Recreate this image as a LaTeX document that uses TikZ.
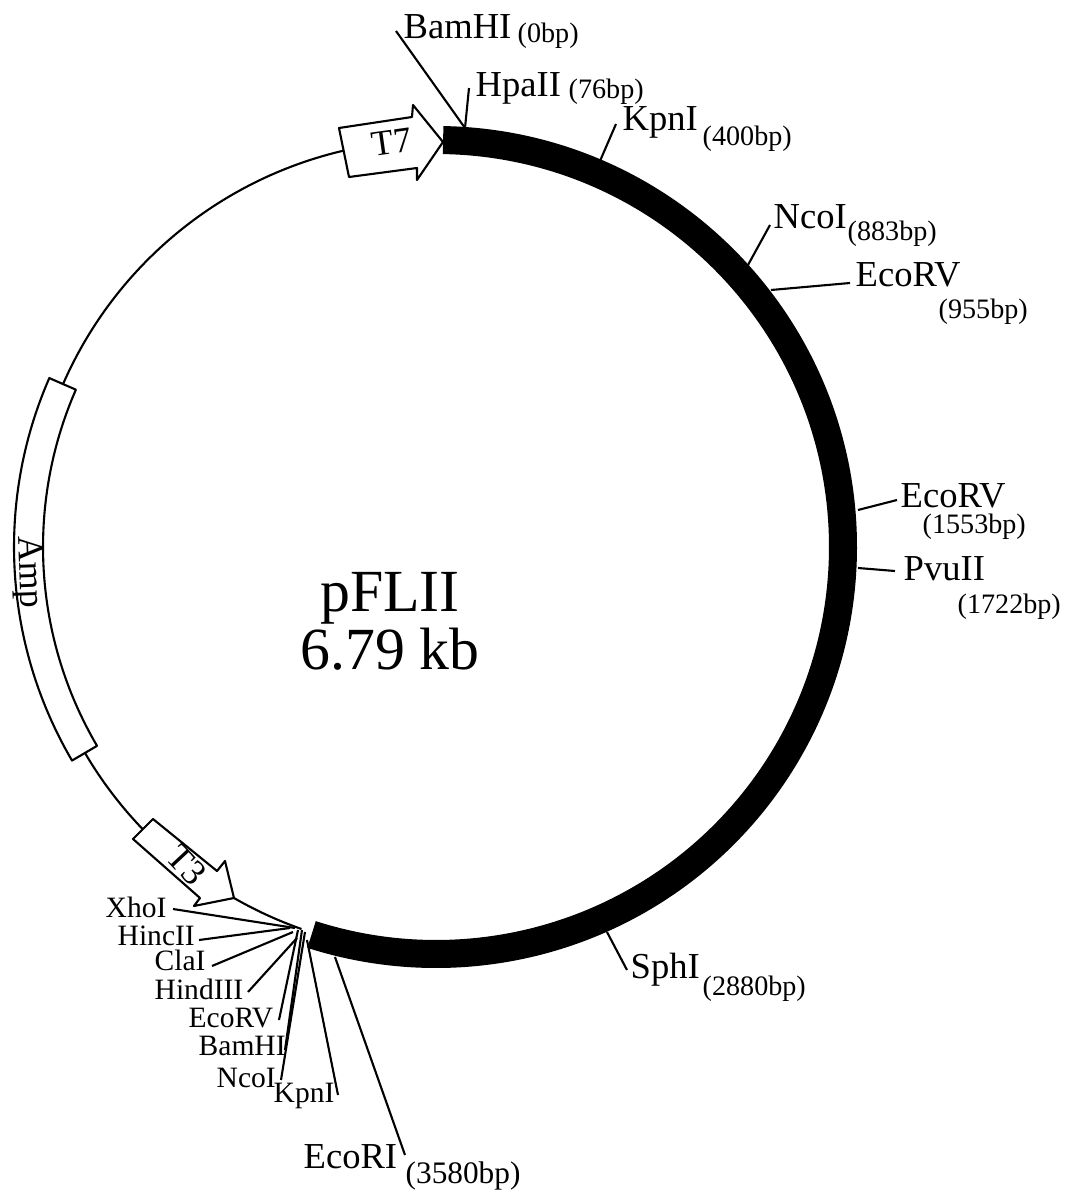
\documentclass[tikz,border=0pt]{standalone}
\usepackage{fontspec}
\setmainfont{Liberation Serif}
\usepackage{tikz}

\begin{document}
\begin{tikzpicture}[
    x=0.01cm, y=0.01cm,
    site/.style={anchor=base west, inner sep=0pt, font=\fontsize{10.4}{12}\selectfont},
    sitesm/.style={anchor=base west, inner sep=0pt, font=\fontsize{8.4}{10}\selectfont},
    bplab/.style={anchor=base west, inner sep=0pt, font=\fontsize{8}{10}\selectfont},
    tick/.style={line width=0.6pt},
    feat/.style={draw, line width=0.6pt, fill=white, line join=round},
    feattxt/.style={inner sep=0pt, font=\fontsize{10.2}{12}\selectfont}
  ]
    \useasboundingbox (-436,-643) rectangle (630,547);
    \node[align=center, inner sep=0pt, font=\fontsize{17}{15}\selectfont] (plasmid) at (-46,-74) {pFLII\\6.79 kb};
    % Backbone and insert
    \draw[tick] (156.4:407) arc[start angle=156.4, end angle=103.1, radius=407];
    \draw[tick] (210.4:407) arc[start angle=210.4, end angle=223.9, radius=407];
    \draw[tick] (240.1:405) arc[start angle=240.1, end angle=250.6, radius=405];
    \draw[line width=2.8mm] (89:407) arc[start angle=89, end angle=-107.8, radius=407];
    % Features
    \draw[feat] (156.4:422) arc[start angle=156.4, end angle=210.4, radius=422]
      -- (210.4:393) arc[start angle=210.4, end angle=156.4, radius=393] -- cycle;
    \node[feattxt, rotate=-88] (amp) at (-408,-25) {Amp};
    \draw[feat] (-97,419) -- (-24,430) -- (-23,442) -- (7,405) -- (-19,367) -- (-19,379) -- (-87,370) -- cycle;
    \node[feattxt, rotate=8] (tseven) at (-44,405) {T7};
    \draw[feat] (-283,-272) -- (-219,-324) -- (-211,-314) -- (-202,-351) -- (-242,-359) -- (-236,-351) -- (-303,-292) -- cycle;
    \node[feattxt, rotate=-47] (tthree) at (-249,-318) {T3};
    % Sites on the insert
    \node[site] (bam)  at (-33,509) {BamHI};
    \node[bplab]  (bamp) at (81,505)  {(0bp)};
    \node[site] (hpa)  at (39,451)  {HpaII};
    \node[bplab]  (hpap) at (132,449) {(76bp)};
    \node[site] (kpn)  at (186,417) {KpnI};
    \node[bplab]  (kpnp) at (266,402) {(400bp)};
    \node[site] (nco)  at (337,319) {NcoI};
    \node[bplab]  (ncop) at (411,307) {(883bp)};
    \node[site] (evA)  at (419,261) {EcoRV};
    \node[bplab]  (evAp) at (502,229) {(955bp)};
    \node[site] (evB)  at (464,40)  {EcoRV};
    \node[bplab]  (evBp) at (486,14)  {(1553bp)};
    \node[site] (pvu)  at (467,-33) {PvuII};
    \node[bplab]  (pvup) at (521,-66) {(1722bp)};
    \node[site] (sph)  at (194,-431) {SphI};
    \node[bplab]  (sphp) at (266,-448) {(2880bp)};
    \node[site] (eri)  at (-133,-621) {EcoRI};
    \node[bplab, font=\fontsize{8.9}{10}\selectfont] (erip) at (-31,-636) {(3580bp)};
    % Multiple cloning site
    \node[sitesm] (mXho)  at (-331,-370) {XhoI};
    \node[sitesm] (mHinc) at (-319,-398) {HincII};
    \node[sitesm] (mCla)  at (-282,-423) {ClaI};
    \node[sitesm] (mHind) at (-282,-452) {HindIII};
    \node[sitesm] (mEv)   at (-248,-480) {EcoRV};
    \node[sitesm] (mBam)  at (-238,-508) {BamHI};
    \node[sitesm] (mNco)  at (-220,-540) {NcoI};
    \node[sitesm] (mKpn)  at (-163,-555) {KpnI};
    % Tick ends
    \coordinate (sBam) at (29,419);    \coordinate (eBam) at (-40,516);
    \coordinate (eHpa) at (33,459);
    \coordinate (sKpn) at (164,386);   \coordinate (eKpn) at (180,423);
    \coordinate (sNco) at (312,282);   \coordinate (eNco) at (334,322);
    \coordinate (sEvA) at (335,257);   \coordinate (eEvA) at (414,264);
    \coordinate (sEvB) at (422,37);    \coordinate (eEvB) at (461,47);
    \coordinate (sPvu) at (422,-21);   \coordinate (ePvu) at (459,-24);
    \coordinate (sSph) at (171,-385);  \coordinate (eSph) at (191,-423);
    \coordinate (sEri) at (-101,-410); \coordinate (eEri) at (-31,-608);
    \coordinate (sXho) at (-141,-381); \coordinate (eXho) at (-263,-362);
    \coordinate (sHinc) at (-146,-381); \coordinate (eHinc) at (-237,-393);
    \coordinate (sCla) at (-143,-385); \coordinate (eCla) at (-224,-419);
    \coordinate (sHind) at (-139,-391); \coordinate (eHind) at (-188,-445);
    \coordinate (sEv) at (-138,-383);  \coordinate (eEv) at (-157,-473);
    \coordinate (sBamB) at (-134,-383); \coordinate (eBamB) at (-151,-503);
    \coordinate (sNcoB) at (-131,-385); \coordinate (eNcoB) at (-155,-533);
    \coordinate (sKpnB) at (-129,-393); \coordinate (eKpnB) at (-98,-548);
    % Ticks
    \draw[tick] (sBam) -- (eBam);
    \draw[tick] (sBam) -- (eHpa);
    \draw[tick] (sKpn) -- (eKpn);
    \draw[tick] (sNco) -- (eNco);
    \draw[tick] (sEvA) -- (eEvA);
    \draw[tick] (sEvB) -- (eEvB);
    \draw[tick] (sPvu) -- (ePvu);
    \draw[tick] (sSph) -- (eSph);
    \draw[tick] (sEri) -- (eEri);
    \draw[tick] (sXho) -- (eXho);
    \draw[tick] (sHinc) -- (eHinc);
    \draw[tick] (sCla) -- (eCla);
    \draw[tick] (sHind) -- (eHind);
    \draw[tick] (sEv) -- (eEv);
    \draw[tick] (sBamB) -- (eBamB);
    \draw[tick] (sNcoB) -- (eNcoB);
    \draw[tick] (sKpnB) -- (eKpnB);
  \end{tikzpicture}
\end{document}
